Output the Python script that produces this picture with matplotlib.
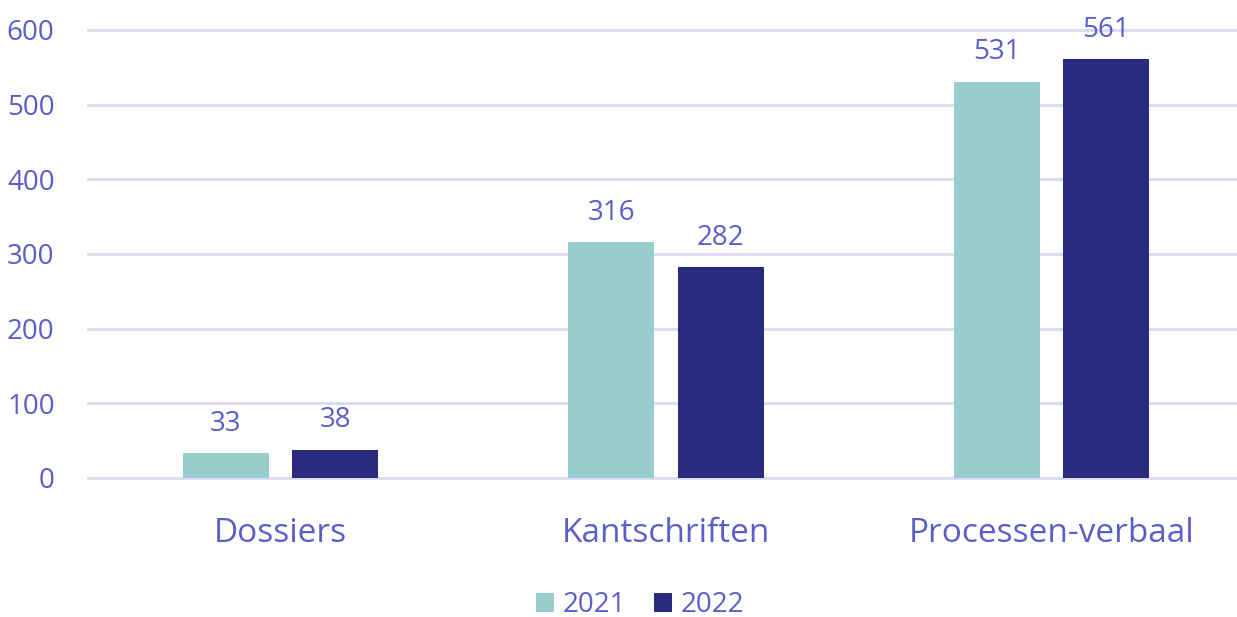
import numpy as np
import matplotlib.pyplot as plt

categories = ['Dossiers', 'Kantschriften', 'Processen-verbaal']
years = ['2021', '2022']
values_2021 = [33, 316, 531]
values_2022 = [38, 282, 561]
yticks = [0, 100, 200, 300, 400, 500, 600]

text_col = '#5a5ec8'
grid_col = '#d9d9f0'
col_2021 = '#99cccc'
col_2022 = '#2a2a7e'

plt.rcParams['font.family'] = ['Open Sans', 'DejaVu Sans']

fig = plt.figure(figsize=(12.37, 6.17), dpi=100)
# the plot area runs a little past the right edge of the image
ax = fig.add_axes([0.0711, 0.2253, 0.9345, 0.7261])

x = np.arange(len(categories))
w = 0.223
off = 0.142
b1 = ax.bar(x - off, values_2021, w, color=col_2021, label=years[0], zorder=3)
b2 = ax.bar(x + off, values_2022, w, color=col_2022, label=years[1], zorder=3)

for bars in (b1, b2):
    for rect in bars:
        h = rect.get_height()
        ax.annotate(f'{int(h)}', (rect.get_x() + rect.get_width() / 2, h),
                    xytext=(0, 11), textcoords='offset points',
                    ha='center', va='bottom', fontsize=20, color=text_col, zorder=4)

ax.set_xlim(-0.5, 2.5)
ax.set_ylim(0, 600)
ax.set_yticks(yticks)
ax.set_xticks(x)
ax.set_xticklabels(categories, fontsize=24, color=text_col)
ax.tick_params(axis='y', length=0, pad=24, labelsize=20, labelcolor=text_col)
ax.tick_params(axis='x', length=0, pad=28)
ax.grid(axis='y', color=grid_col, linewidth=2, zorder=0)
for gl in ax.get_ygridlines():
    gl.set_clip_on(False)
for s in ax.spines.values():
    s.set_visible(False)

leg = fig.legend(handles=[b1, b2], loc='center', bbox_to_anchor=(640 / 1237, 1 - 605 / 617),
                 ncol=2, frameon=False, fontsize=20, handlelength=0.65, handleheight=0.65,
                 handletextpad=0.3, columnspacing=1.0)
for t in leg.get_texts():
    t.set_color(text_col)

fig.savefig('out.png', dpi=100)
